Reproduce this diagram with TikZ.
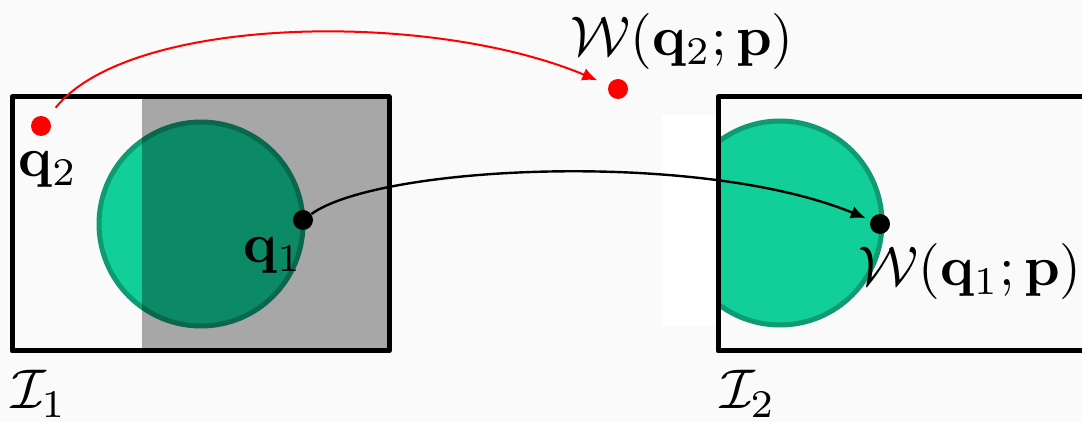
\documentclass[tikz,border=0pt]{standalone}
\usepackage{amsmath, amsfonts}
\usepackage{tikz}
\usetikzlibrary{arrows.meta}
\definecolor{roifill}{HTML}{12CF99}
\definecolor{roiedge}{HTML}{0E9B73}
\begin{document}
\begin{tikzpicture}[x=0.5pt,y=-0.5pt,
    dot/.style={circle,fill=#1,inner sep=0pt,minimum size=10pt},
    lbl/.style={inner sep=0pt,scale=2.8}]
  \useasboundingbox[fill=black!2] (0,0) rectangle (1082,422);
  \fill[white] (662,115) rectangle (718,326);
  % first image with the shaded window
  \draw[line width=2.5pt,color=roiedge,fill=roifill] (201,224) circle (102);
  \fill[black,opacity=0.33] (142,97) rectangle (389,351);
  \draw[line width=2.5pt,line join=round] (12,97) rectangle (389,351);
  % second image, cut at its left side
  \begin{scope}
    \clip (718,97) rectangle (1100,351);
    \draw[line width=2.5pt,color=roiedge,fill=roifill] (780,223) circle (102);
  \end{scope}
  \draw[line width=2.5pt,line join=round] (1100,97)--(718,97)--(718,351)--(1100,351);
  % points
  \node[dot=red] (q2) at (41,126) {};
  \node[dot=red] (w2) at (618,89) {};
  \node[dot=black] (q1) at (303,220) {};
  \node[dot=black] (w1) at (880,224) {};
  \node[lbl] (q2lbl) at (48,170) {$\mathbf{q}_2$};
  \node[lbl] (q1lbl) at (273,256) {$\mathbf{q}_1$};
  \node[lbl] (w2lbl) at (682,42) {$\mathcal{W}(\mathbf{q}_2;\mathbf{p})$};
  \node[lbl] (w1lbl) at (970,272) {$\mathcal{W}(\mathbf{q}_1;\mathbf{p})$};
  \node[lbl] (im1) at (39,394) {$\mathcal{I}_1$};
  \node[lbl] (im2) at (748,394) {$\mathcal{I}_2$};
  % warps
  \draw[red,line width=1pt,-{Latex[length=7.5pt,width=6.5pt]},shorten <=6.5pt,shorten >=6pt]
    (q2) .. controls (130,15) and (430,10) .. (w2);
  \draw[line width=1.2pt,-{Latex[length=7.5pt,width=6.5pt]},shorten >=2.5pt]
    (q1) .. controls (380,165) and (700,150) .. (w1);
\end{tikzpicture}
\end{document}
